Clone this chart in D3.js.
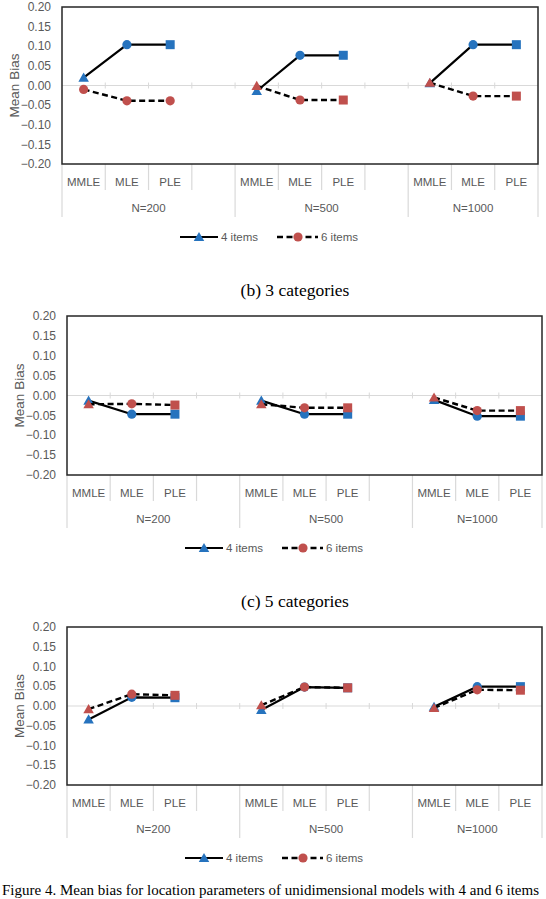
<!DOCTYPE html>
<html>
<head>
<meta charset="utf-8">
<script src="https://cdn.jsdelivr.net/npm/d3@7"></script>
<style>
  body { margin: 0; background: #fff; }
  svg { display: block; }
</style>
</head>
<body>
<svg id="mainsvg" width="546" height="899"></svg>
<script>
// categories along the x axis (blank slots separate the sample size groups)
const categories = ["MMLE", "MLE", "PLE", "", "MMLE", "MLE", "PLE", "", "MMLE", "MLE", "PLE"];
const groups = ["N=200", "N=500", "N=1000"];
const yTicks = [-0.20, -0.15, -0.10, -0.05, 0.00, 0.05, 0.10, 0.15, 0.20];
const seriesNames = ["4 items", "6 items"];

// marker shape per category point
const shapes = ["triangle", "circle", "square", null, "triangle", "circle", "square", null, "triangle", "circle", "square"];
const shapesA6 = ["circle", "circle", "circle", null, "triangle", "circle", "square", null, "triangle", "circle", "square"];

// (a) 2 categories
const a4 = [0.020, 0.104, 0.104, null, -0.014, 0.077, 0.077, null, 0.006, 0.104, 0.104];
const a6 = [-0.010, -0.039, -0.039, null, -0.001, -0.037, -0.037, null, 0.007, -0.027, -0.027];
// (b) 3 categories
const b4 = [-0.013, -0.047, -0.047, null, -0.013, -0.047, -0.047, null, -0.011, -0.052, -0.052];
const b6 = [-0.022, -0.021, -0.024, null, -0.022, -0.031, -0.031, null, -0.005, -0.038, -0.038];
// (c) 5 categories
const c4 = [-0.034, 0.022, 0.021, null, -0.010, 0.048, 0.046, null, -0.002, 0.049, 0.049];
const c6 = [-0.008, 0.030, 0.027, null, 0.002, 0.048, 0.046, null, -0.005, 0.041, 0.040];

const titles = ["(b) 3 categories", "(c) 5 categories"];
const caption = "Figure 4. Mean bias for location parameters of unidimensional models with 4 and 6 items";

let svg = d3.select('#mainsvg');
const blue = "#2673BE", red = "#C0504D";
const gray = "#595959", light = "#d9d9d9";
const sans = "'Liberation Sans', Arial, sans-serif";
const serif = "'Liberation Serif', 'Times New Roman', serif";

function marker(g, shape, x, y, color) {
    if (shape == "circle") {
        g.append('circle').attr('cx', x).attr('cy', y).attr('r', 4.6).attr('fill', color);
    } else if (shape == "square") {
        g.append('rect').attr('x', x - 4.5).attr('y', y - 4.5).attr('width', 9).attr('height', 9).attr('fill', color);
    } else if (shape == "triangle") {
        g.append('path').attr('d', d3.symbol().type(d3.symbolTriangle).size(48)())
            .attr('transform', `translate(${x},${y + 1})`).attr('fill', color);
    }
}

function drawPanel(p) {
    const g = svg.append('g');
    const x = d3.scaleBand().domain(d3.range(categories.length)).range([p.left, p.right]);
    const y = d3.scaleLinear().domain([-0.2, 0.2]).range([p.bottom, p.top]);
    const cx = i => x(i) + x.bandwidth() / 2;

    // zero line with small ticks
    g.append('line').attr('x1', p.left).attr('x2', p.right)
        .attr('y1', y(0)).attr('y2', y(0)).attr('stroke', light).attr('stroke-width', 1.2);
    d3.range(1, categories.length).forEach(i => {
        g.append('line').attr('x1', x(i)).attr('x2', x(i))
            .attr('y1', y(0) - 3).attr('y2', y(0) + 3).attr('stroke', light);
    });

    // y axis labels
    yTicks.forEach(t => {
        g.append('text').attr('x', p.left - 11).attr('y', y(t)).attr('dy', '0.35em')
            .attr('text-anchor', 'end').attr('font-family', sans).attr('font-size', 12)
            .attr('fill', gray).text(d3.format('.2f')(t));
    });
    g.append('text')
        .attr('transform', `translate(${p.left - 48},${(p.top + p.bottom) / 2}) rotate(-90)`)
        .attr('text-anchor', 'middle').attr('dy', '0.35em')
        .attr('font-family', sans).attr('font-size', 13.5).attr('fill', gray).text('Mean Bias');

    // category axis: separators and labels
    const groupEdges = [0, 4, 8, categories.length];
    d3.range(0, categories.length + 1).forEach(i => {
        const xx = i == categories.length ? p.right : x(i);
        const long = groupEdges.includes(i);
        g.append('line').attr('x1', xx).attr('x2', xx)
            .attr('y1', p.bottom).attr('y2', p.bottom + (long ? 53 : 26))
            .attr('stroke', light).attr('stroke-width', 1.2);
    });
    categories.forEach((c, i) => {
        g.append('text').attr('x', cx(i)).attr('y', p.bottom + 18).attr('dy', '0.35em')
            .attr('text-anchor', 'middle').attr('font-family', sans).attr('font-size', 11.5)
            .attr('fill', gray).text(c);
    });
    groups.forEach((n, k) => {
        const x0 = x(groupEdges[k]);
        const x1 = groupEdges[k + 1] == categories.length ? p.right : x(groupEdges[k + 1]);
        g.append('text').attr('x', (x0 + x1) / 2).attr('y', p.bottom + 44).attr('dy', '0.35em')
            .attr('text-anchor', 'middle').attr('font-family', sans).attr('font-size', 11.5)
            .attr('fill', gray).text(n);
    });

    // lines
    const line = d3.line().defined(d => d.v != null).x(d => cx(d.i)).y(d => y(d.v));
    const s4 = p.s4.map((v, i) => ({ i: i, v: v }));
    const s6 = p.s6.map((v, i) => ({ i: i, v: v }));
    g.append('path').attr('d', line(s4)).attr('fill', 'none')
        .attr('stroke', '#000').attr('stroke-width', 2.2);
    s4.forEach(d => { if (d.v != null) marker(g, shapes[d.i], cx(d.i), y(d.v), blue); });
    g.append('path').attr('d', line(s6)).attr('fill', 'none')
        .attr('stroke', '#000').attr('stroke-width', 2.4).attr('stroke-dasharray', '6,3.5');
    s6.forEach(d => { if (d.v != null) marker(g, p.shapes6[d.i], cx(d.i), y(d.v), red); });

    // plot border
    g.append('rect').attr('x', p.left).attr('y', p.top)
        .attr('width', p.right - p.left).attr('height', p.bottom - p.top)
        .attr('fill', 'none').attr('stroke', '#262626').attr('stroke-width', 1.5);

    // legend
    const ly = p.bottom + 73;
    const lx = p.left + 118;
    g.append('line').attr('x1', lx).attr('x2', lx + 38).attr('y1', ly).attr('y2', ly)
        .attr('stroke', '#000').attr('stroke-width', 2.2);
    marker(g, "triangle", lx + 19, ly, blue);
    g.append('text').attr('x', lx + 41).attr('y', ly).attr('dy', '0.35em')
        .attr('font-family', sans).attr('font-size', 11.5).attr('fill', gray).text(seriesNames[0]);
    const lx2 = lx + 97;
    g.append('line').attr('x1', lx2).attr('x2', lx2 + 41).attr('y1', ly).attr('y2', ly)
        .attr('stroke', '#000').attr('stroke-width', 2.4).attr('stroke-dasharray', '6,3.5');
    marker(g, "circle", lx2 + 21, ly, red);
    g.append('text').attr('x', lx2 + 44).attr('y', ly).attr('dy', '0.35em')
        .attr('font-family', sans).attr('font-size', 11.5).attr('fill', gray).text(seriesNames[1]);
}

drawPanel({ left: 62, right: 538, top: 7, bottom: 164, s4: a4, s6: a6, shapes6: shapesA6 });
drawPanel({ left: 67, right: 542, top: 316, bottom: 475, s4: b4, s6: b6, shapes6: shapes });
drawPanel({ left: 67, right: 542, top: 627, bottom: 785, s4: c4, s6: c6, shapes6: shapes });

svg.append('text').attr('x', 295).attr('y', 290).attr('dy', '0.35em').attr('text-anchor', 'middle')
    .attr('font-family', serif).attr('font-size', 17.5).attr('fill', '#000').text(titles[0]);
svg.append('text').attr('x', 295).attr('y', 601).attr('dy', '0.35em').attr('text-anchor', 'middle')
    .attr('font-family', serif).attr('font-size', 17.5).attr('fill', '#000').text(titles[1]);
svg.append('text').attr('x', 2).attr('y', 890).attr('dy', '0.35em').attr('text-anchor', 'start')
    .attr('font-family', serif).attr('font-size', 15).attr('fill', '#000').text(caption);
</script>
</body>
</html>
